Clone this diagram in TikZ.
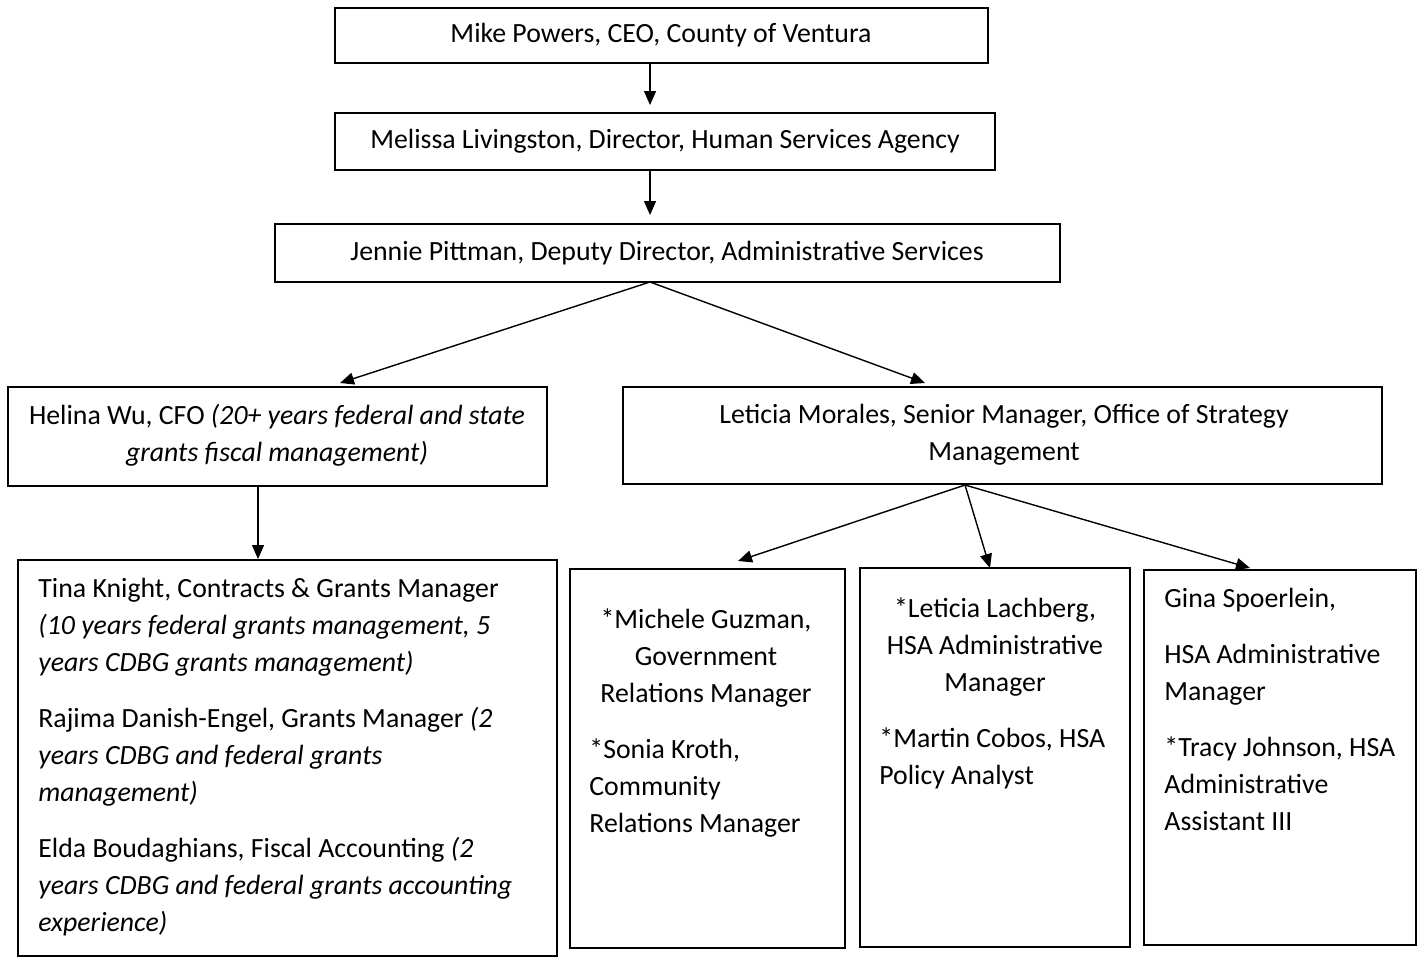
\documentclass[tikz,border=0pt]{standalone}
\usepackage{fontspec}
\setmainfont{Carlito}
\usetikzlibrary{fit,arrows.meta}
\newcommand\bodyfont{\fontsize{13.9}{18.5}\selectfont}
\begin{document}
\begin{tikzpicture}[x=0.5pt,y=-0.5pt,
  box/.style={draw, line width=1.2pt, inner sep=0pt, align=center, font=\bodyfont},
  txt/.style={inner sep=0pt, font=\bodyfont},
  arr/.style={line width=0.7pt, -{Triangle[length=7pt,width=6pt]}}]
\fill[white] (0,0) rectangle (1424,958);
\useasboundingbox (0,0) rectangle (1424,958);
% boxes
\node[box, fit={(335,8)(988,63)}] (mike) {};
\node[txt] at (661,35) {Mike Powers, CEO, County of Ventura};
\node[box, fit={(335,113)(995,170)}] (melissa) {};
\node[txt] at (665,141) {Melissa Livingston, Director, Human Services Agency};
\node[box, fit={(275,224)(1060,282)}] (jennie) {};
\node[txt] at (667,253) {Jennie Pittman, Deputy Director, Administrative Services};
\node[box, fit={(8,387)(547,486)}] (helina) {};
\node[txt, align=center] at (277,435) {Helina Wu, CFO \textit{(20+ years federal and state}\\\textit{grants fiscal management)}};
\node[box, fit={(623,387)(1382,484)}] (leticiam) {};
\node[txt, align=center] at (1004,435) {Leticia Morales, Senior Manager, Office of Strategy\\Management};
\node[box, fit={(18,560)(557,956)}] (tina) {};
\node[txt, align=left, anchor=north west] at (38,578) {Tina Knight, Contracts \& Grants Manager\\
\textit{(10 years federal grants management, 5}\\
\textit{years CDBG grants management)}\\[9.5pt]
Rajima Danish-Engel, Grants Manager \textit{(2}\\
\textit{years CDBG and federal grants}\\
\textit{management)}\\[9.5pt]
Elda Boudaghians, Fiscal Accounting \textit{(2}\\
\textit{years CDBG and federal grants accounting}\\
\textit{experience)}};
\node[box, fit={(570,569)(845,948)}] (michele) {};
\node[txt, align=center, anchor=north] at (706,608) {*Michele Guzman,\\Government\\Relations Manager};
\node[txt, align=left, anchor=north west] at (589,738) {*Sonia Kroth,\\Community\\Relations Manager};
\node[box, fit={(860,568)(1130,947)}] (lachberg) {};
\node[txt, align=center, anchor=north] at (995,597) {*Leticia Lachberg,\\HSA Administrative\\Manager};
\node[txt, align=left, anchor=north west] at (879,727) {*Martin Cobos, HSA\\Policy Analyst};
\node[box, fit={(1144,570)(1416,945)}] (gina) {};
\node[txt, align=left, anchor=north west] at (1164,588) {Gina Spoerlein,\\[9.5pt]
HSA Administrative\\Manager\\[9.5pt]
*Tracy Johnson, HSA\\Administrative\\Assistant III};
% connector end points
\coordinate (mk-out) at (650,63);
\coordinate (me-in) at (650,105);
\coordinate (me-out) at (650,170);
\coordinate (je-in) at (650,215);
\coordinate (j-out) at (650,282);
\coordinate (h-in) at (340,383);
\coordinate (lm-in) at (925,383);
\coordinate (h-out) at (258,486);
\coordinate (t-in) at (258,559);
\coordinate (l-out) at (965,485);
\coordinate (m-in) at (738,561);
\coordinate (lb-in) at (990,568);
\coordinate (g-in) at (1250,568);
% connectors
\draw[arr] (mk-out) -- (me-in);
\draw[arr] (me-out) -- (je-in);
\draw[arr] (j-out) -- (h-in);
\draw[arr] (j-out) -- (lm-in);
\draw[arr] (h-out) -- (t-in);
\draw[arr] (l-out) -- (m-in);
\draw[arr] (l-out) -- (lb-in);
\draw[arr] (l-out) -- (g-in);
\end{tikzpicture}
\end{document}
